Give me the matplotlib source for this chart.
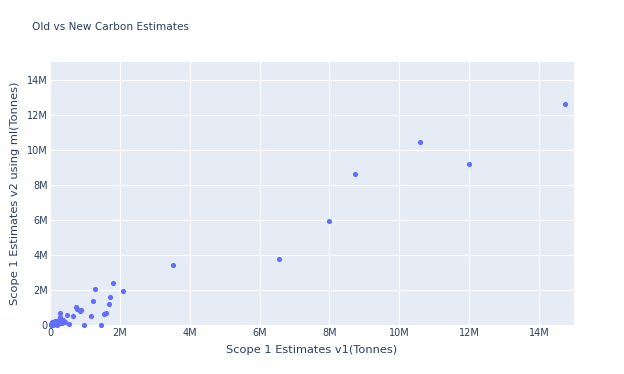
import matplotlib.pyplot as plt
from matplotlib.ticker import FuncFormatter

# Scope 1 estimates, in millions of tonnes
v1_mt = [14.73, 12.0, 10.6, 8.74, 8.0, 6.56, 3.52, 2.09, 1.81, 1.30,
         1.73, 1.70, 1.24, 1.60, 1.55, 1.16, 1.46, 0.97, 0.74, 0.78,
         0.86, 0.90, 0.67, 0.50, 0.55, 0.30, 0.29, 0.38, 0.25, 0.22,
         0.20, 0.18, 0.15, 0.12, 0.10, 0.08, 0.05, 0.03, 0.28, 0.32,
         0.24, 0.14, 0.06, 0.35, 0.42, 0.02, 0.19, 0.11]
v2_mt = [12.6, 9.2, 10.46, 8.63, 5.94, 3.77, 3.43, 1.94, 2.38, 2.08,
         1.62, 1.22, 1.38, 0.70, 0.60, 0.54, 0.0, 0.0, 1.02, 0.90,
         0.80, 0.88, 0.52, 0.58, 0.04, 0.66, 0.44, 0.26, 0.30, 0.18,
         0.10, 0.22, 0.05, 0.14, 0.02, 0.08, 0.03, 0.0, 0.12, 0.36,
         0.06, 0.25, 0.15, 0.10, 0.16, 0.07, 0.01, 0.20]

v1 = [v * 1e6 for v in v1_mt]
v2 = [v * 1e6 for v in v2_mt]

txt = '#2a3f5f'
plt.rcParams['font.family'] = ['DejaVu Sans']

fig = plt.figure(figsize=(6.24, 3.74), dpi=100)
ax = fig.add_axes([0.0801, 0.131, 0.8398, 0.703])
ax.set_facecolor('#E5ECF6')
ax.scatter(v1, v2, s=14, color='#636efa', linewidths=0, zorder=3, clip_on=False)

ax.set_xlim(0, 15e6)
ax.set_ylim(0, 15e6)
ticks = [0, 2e6, 4e6, 6e6, 8e6, 10e6, 12e6, 14e6]
ax.set_xticks(ticks)
ax.set_yticks(ticks)
fmt = FuncFormatter(lambda v, p: '0' if v == 0 else f'{v / 1e6:.0f}M')
ax.xaxis.set_major_formatter(fmt)
ax.yaxis.set_major_formatter(fmt)
ax.grid(True, color='white', linewidth=0.8, zorder=0)
ax.set_axisbelow(True)
for s in ax.spines.values():
    s.set_visible(False)
ax.tick_params(length=0, colors=txt, labelsize=7)
ax.tick_params(axis='y', pad=1.5)
ax.tick_params(axis='x', pad=2.5)

ax.set_xlabel('Scope 1 Estimates v1(Tonnes)', color=txt, fontsize=8.2, labelpad=5)
ax.set_ylabel('Scope 1 Estimates v2 using ml(Tonnes)', color=txt, fontsize=8.2, labelpad=5)
fig.text(32 / 624, 1 - 27 / 374, 'Old vs New Carbon Estimates', color=txt,
         fontsize=7.6, va='center', ha='left')

fig.savefig('out.png', dpi=100)
